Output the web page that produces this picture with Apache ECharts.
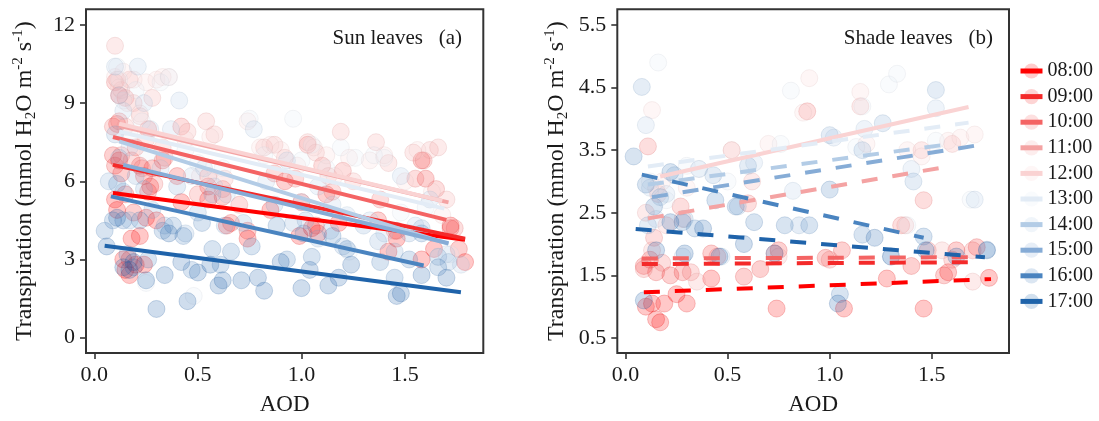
<!DOCTYPE html>
<html><head><meta charset="utf-8">
<script src="https://cdn.jsdelivr.net/npm/echarts@6/dist/echarts.min.js"></script>
<style>html,body{margin:0;padding:0;background:#fff}#c{width:1099px;height:421px}</style>
</head><body><div id="c"></div>
<script>
const hours = ['08:00','09:00','10:00','11:00','12:00','13:00','14:00','15:00','16:00','17:00'];
const hourColors = ['#FF0000','#F42A2A','#F46464','#F4A3A3','#FAD3D3','#E3ECF6','#B3CCE6','#86ACD6','#4A84C0','#1F63AA'];
const xTicks = [0, 0.5, 1.0, 1.5];
const sunYTicks = [0, 3, 6, 9, 12];
const shadeYTicks = [0.5, 1.5, 2.5, 3.5, 4.5, 5.5];
const panelTitles = ['Sun leaves   (a)', 'Shade leaves   (b)'];

// fitted lines: [aodStart, Tstart, aodEnd, Tend]
const sunFits = [
  [0.09, 5.55, 1.79, 3.76],
  [0.09, 6.63, 1.79, 3.80],
  [0.09, 7.70, 1.70, 4.52],
  [0.12, 8.13, 1.71, 5.19],
  [0.12, 8.21, 1.68, 5.25],
  [0.12, 7.91, 1.69, 4.95],
  [0.12, 7.53, 1.71, 3.60],
  [0.14, 6.63, 1.71, 3.62],
  [0.08, 5.42, 1.59, 2.77],
  [0.05, 3.53, 1.77, 1.74]
];
const shadeFits = [
  [0.09, 1.23, 1.79, 1.44],
  [0.08, 1.68, 1.69, 1.71],
  [0.08, 1.77, 1.69, 1.79],
  [0.11, 2.41, 1.60, 3.25],
  [0.17, 3.08, 1.68, 4.19],
  [0.11, 3.24, 1.68, 3.94],
  [0.11, 2.95, 1.55, 3.58],
  [0.13, 2.75, 1.71, 3.57],
  [0.08, 3.11, 1.46, 2.10],
  [0.05, 2.24, 1.76, 1.79]
];
const shadeLineType = ['dashed','dashed','dashed','dashed','solid','dashed','dashed','dashed','dashed','dashed'];

const sunPoints = [
  [[0.10,5.3],[0.11,4.9],[0.12,6.8],[0.14,3.0],[0.15,2.6],[0.17,2.4],[0.18,3.8],[0.20,2.8],[0.22,3.9],[0.24,2.8],[0.25,4.6],[0.27,5.8],[0.30,4.5],[0.42,5.2],[0.55,5.3],[0.64,4.3],[0.74,3.8],[0.85,4.9],[0.99,3.9],[1.05,4.2],[1.08,4.0],[1.18,4.4],[1.42,3.3],[1.46,3.8],[1.58,3.0],[1.64,3.4],[1.72,4.3],[1.79,2.9]],
  [[0.09,7.0],[0.10,6.6],[0.11,8.2],[0.12,9.3],[0.13,6.3],[0.15,5.5],[0.17,3.0],[0.19,4.8],[0.22,6.6],[0.24,6.2],[0.26,5.6],[0.28,6.5],[0.33,6.8],[0.40,6.2],[0.55,5.8],[0.62,5.4],[0.66,4.4],[0.74,4.1],[0.92,6.0],[1.00,5.2],[1.07,4.3],[1.12,5.5],[1.37,4.5],[1.46,4.1],[1.58,6.8],[1.60,6.1],[1.72,4.2],[1.76,3.4]],
  [[0.09,8.1],[0.10,9.8],[0.12,8.3],[0.13,7.0],[0.15,9.2],[0.18,6.8],[0.20,7.3],[0.23,6.5],[0.26,8.0],[0.29,5.9],[0.34,6.9],[0.42,8.1],[0.50,5.5],[0.55,6.2],[0.62,5.7],[0.70,5.1],[0.87,6.3],[0.97,6.1],[1.03,7.4],[1.10,6.6],[1.15,5.6],[1.20,6.4],[1.38,5.3],[1.45,4.1],[1.55,6.1],[1.59,6.8],[1.65,5.7],[1.74,4.2]],
  [[0.10,11.2],[0.11,9.9],[0.13,9.5],[0.15,8.1],[0.17,9.9],[0.19,9.0],[0.22,8.5],[0.25,7.6],[0.28,9.2],[0.33,7.3],[0.45,7.9],[0.54,8.3],[0.58,7.8],[0.63,6.1],[0.82,7.3],[0.87,7.4],[0.92,6.9],[1.03,7.5],[1.07,7.1],[1.13,6.2],[1.19,7.9],[1.25,6.0],[1.36,7.5],[1.42,6.7],[1.54,7.1],[1.62,7.2],[1.66,7.3],[1.70,5.3]],
  [[0.10,10.0],[0.12,9.6],[0.14,10.2],[0.16,9.0],[0.19,9.9],[0.22,8.6],[0.25,9.8],[0.30,9.9],[0.33,10.0],[0.36,10.0],[0.44,7.6],[0.51,6.2],[0.56,7.7],[0.74,8.3],[0.80,7.3],[0.85,7.4],[0.90,7.2],[0.98,6.6],[1.06,7.3],[1.12,7.0],[1.16,6.2],[1.23,6.9],[1.33,6.8],[1.40,7.0],[1.50,6.0],[1.56,7.2],[1.63,5.6],[1.68,4.7]],
  [[0.11,10.4],[0.12,9.9],[0.14,9.1],[0.17,7.8],[0.20,9.5],[0.23,8.3],[0.26,7.1],[0.25,2.1],[0.32,9.8],[0.36,10.0],[0.44,7.2],[0.48,1.6],[0.50,6.7],[0.56,6.0],[0.62,6.5],[0.75,8.4],[0.82,7.0],[0.96,8.4],[1.00,6.8],[1.05,7.4],[1.12,6.5],[1.19,7.3],[1.23,3.3],[1.26,6.9],[1.35,7.0],[1.40,6.9],[1.48,4.8],[1.60,5.0],[1.66,3.1],[1.72,3.2]],
  [[0.10,10.4],[0.12,9.3],[0.14,8.7],[0.17,7.3],[0.21,10.4],[0.24,9.0],[0.27,8.0],[0.32,6.5],[0.37,8.0],[0.41,9.1],[0.47,6.2],[0.53,6.5],[0.58,5.8],[0.64,5.5],[0.77,8.0],[0.83,6.0],[0.93,6.8],[1.00,5.2],[1.08,5.8],[1.15,5.1],[1.22,4.7],[1.33,4.5],[1.40,4.0],[1.48,6.2],[1.55,4.3],[1.62,5.3],[1.70,3.2],[1.77,2.8]],
  [[0.07,6.0],[0.10,7.8],[0.12,6.9],[0.14,5.6],[0.17,4.5],[0.20,6.2],[0.24,5.7],[0.28,4.9],[0.34,4.3],[0.40,5.8],[0.44,4.0],[0.50,4.8],[0.57,5.5],[0.63,4.3],[0.72,4.4],[0.87,5.1],[0.96,4.4],[1.02,4.5],[1.08,3.8],[1.14,4.1],[1.20,3.5],[1.30,4.3],[1.37,3.7],[1.45,3.3],[1.52,4.0],[1.58,4.2],[1.66,3.1],[1.71,2.9]],
  [[0.05,4.1],[0.09,4.5],[0.11,5.9],[0.14,4.5],[0.16,3.2],[0.19,2.7],[0.22,4.5],[0.26,3.0],[0.33,4.1],[0.38,4.3],[0.43,3.9],[0.47,2.6],[0.52,4.4],[0.57,3.4],[0.61,2.8],[0.66,3.3],[0.76,3.5],[0.88,4.3],[0.93,3.0],[1.01,4.0],[1.05,3.1],[1.15,3.9],[1.22,3.4],[1.38,2.9],[1.45,2.3],[1.52,3.0],[1.58,4.0],[1.66,2.7]],
  [[0.06,3.5],[0.11,4.6],[0.14,2.7],[0.17,2.6],[0.19,2.9],[0.25,2.2],[0.30,1.1],[0.34,2.4],[0.36,4.0],[0.42,2.9],[0.45,1.4],[0.50,2.5],[0.56,2.8],[0.60,2.0],[0.62,2.2],[0.71,2.2],[0.79,2.3],[0.82,1.8],[0.90,2.9],[1.00,1.9],[1.04,2.6],[1.13,2.0],[1.18,2.3],[1.24,2.8],[1.46,1.6],[1.48,1.7],[1.58,2.4],[1.70,2.3]]
];

const shadePoints = [
  [[0.10,1.0],[0.13,1.05],[0.15,0.8],[0.17,0.75],[0.19,1.05],[0.25,1.2],[0.30,1.05],[0.42,1.45],[0.74,0.97],[1.07,0.97],[1.28,1.45],[1.46,0.97],[1.58,1.55],[1.78,1.46]],
  [[0.09,1.65],[0.12,1.75],[0.15,1.55],[0.22,1.5],[0.28,1.55],[0.42,1.85],[0.58,1.48],[0.66,1.6],[0.75,1.9],[0.98,1.78],[1.06,1.9],[1.40,1.65],[1.56,1.5],[1.62,1.9],[1.72,1.95]],
  [[0.09,1.6],[0.11,3.56],[0.14,2.1],[0.18,1.7],[0.27,2.6],[0.32,1.55],[0.45,1.8],[0.60,2.65],[0.73,1.85],[0.89,4.12],[1.00,1.75],[1.35,2.3],[1.46,2.7],[1.48,1.9],[1.60,1.75],[1.70,1.9]],
  [[0.10,2.5],[0.13,1.9],[0.16,2.8],[0.20,2.3],[0.28,2.4],[0.35,1.4],[0.52,3.5],[0.62,3.0],[0.75,1.8],[1.15,4.2],[1.37,2.3],[1.45,3.5],[1.55,1.9],[1.60,3.6],[1.70,1.4]],
  [[0.13,4.14],[0.15,2.9],[0.18,3.0],[0.30,2.9],[0.52,3.5],[0.70,3.6],[0.87,4.1],[0.90,4.65],[1.15,4.43],[1.18,3.6],[1.38,3.5],[1.45,3.4],[1.58,3.65],[1.64,3.7],[1.71,3.75]],
  [[0.12,3.0],[0.16,4.9],[0.20,2.7],[0.30,3.25],[0.36,3.2],[0.50,3.0],[0.76,3.6],[0.81,4.45],[1.13,3.55],[1.16,4.2],[1.29,4.55],[1.33,4.72],[1.38,2.3],[1.69,2.71],[1.52,3.65]],
  [[0.10,3.9],[0.12,2.9],[0.15,2.4],[0.20,2.8],[0.28,1.8],[0.36,3.2],[0.47,1.8],[0.63,3.3],[0.82,2.85],[1.02,3.7],[1.17,3.84],[1.30,1.8],[1.40,3.2],[1.52,4.17],[1.71,2.71]],
  [[0.08,4.51],[0.11,2.3],[0.17,2.75],[0.24,3.1],[0.29,2.4],[0.43,3.1],[0.55,2.6],[0.60,3.25],[0.85,2.3],[1.00,3.74],[1.16,3.5],[1.26,3.93],[1.41,3.0],[1.52,4.46],[1.77,1.91]],
  [[0.04,3.40],[0.10,2.95],[0.14,2.6],[0.22,3.15],[0.28,2.35],[0.34,2.25],[0.44,2.7],[0.54,2.6],[0.63,2.35],[0.78,2.3],[0.90,2.3],[1.00,2.87],[1.05,1.2],[1.16,2.15],[1.46,2.12]],
  [[0.09,1.1],[0.15,1.9],[0.22,2.35],[0.29,1.85],[0.38,2.25],[0.46,1.8],[0.58,2.0],[0.73,1.85],[1.04,1.05],[1.22,2.1],[1.30,1.8],[1.47,1.9],[1.62,1.8],[1.77,1.9]]
];

const FONT = '"Liberation Serif", "Times New Roman", serif';
const INK = '#1a1a1a';

function rgba(hex, a, k) {
  k = k || 1;
  const r = Math.round(parseInt(hex.slice(1,3),16)*k);
  const g = Math.round(parseInt(hex.slice(3,5),16)*k);
  const b = Math.round(parseInt(hex.slice(5,7),16)*k);
  return 'rgba(' + r + ',' + g + ',' + b + ',' + a + ')';
}

const yName = '{n|Transpiration (mmol H}{sub|2}{n|O m}{sup|-2}{n| s}{sup|-1}{n|)}';
const yNameStyle = {
  rich: {
    n: {fontFamily: FONT, fontSize: 24, color: INK, lineHeight: 28},
    sub: {fontFamily: FONT, fontSize: 15, color: INK, verticalAlign: 'bottom', lineHeight: 15},
    sup: {fontFamily: FONT, fontSize: 15, color: INK, verticalAlign: 'top', lineHeight: 15}
  }
};

function xAxis(idx) {
  return {
    type: 'value', gridIndex: idx, min: -0.04, max: 1.878,
    name: 'AOD', nameLocation: 'middle', nameGap: 40,
    nameTextStyle: {fontFamily: FONT, fontSize: 23, color: INK},
    axisLine: {show: false, onZero: false},
    axisTick: {show: true, inside: false, length: 6, customValues: xTicks, lineStyle: {color: '#333', width: 1.6}},
    axisLabel: {customValues: xTicks, formatter: v => v.toFixed(1), margin: 11, fontFamily: FONT, fontSize: 22, color: INK},
    splitLine: {show: false}
  };
}
function yAxis(idx, min, max, ticks) {
  return {
    type: 'value', gridIndex: idx, min: min, max: max,
    name: yName, nameLocation: 'middle', nameGap: 47, nameTextStyle: yNameStyle,
    axisLine: {show: false, onZero: false},
    axisTick: {show: true, inside: false, length: 6, customValues: ticks, lineStyle: {color: '#333', width: 1.6}},
    axisLabel: {customValues: ticks, margin: 11, fontFamily: FONT, fontSize: 22, color: INK},
    splitLine: {show: false}
  };
}

const series = [];
hours.forEach((h, i) => {
  const c = hourColors[i];
  const f = sunFits[i];
  series.push({
    type: 'line', name: h, xAxisIndex: 0, yAxisIndex: 0, z: 5,
    data: [[f[0], f[1]], [f[2], f[3]]],
    symbol: 'circle', showSymbol: false, silent: true,
    lineStyle: {color: c, width: 4, type: 'solid', cap: 'butt'},
    itemStyle: {color: rgba(c, 0.2), borderWidth: 0}
  });
});
hours.forEach((h, i) => {
  const c = hourColors[i];
  const f = shadeFits[i];
  series.push({
    type: 'line', name: h, xAxisIndex: 1, yAxisIndex: 1, z: 5,
    data: [[f[0], f[1]], [f[2], f[3]]],
    symbol: 'circle', showSymbol: false, silent: true,
    lineStyle: {color: c, width: 4, type: shadeLineType[i] === 'dashed' ? [16, 15] : 'solid', cap: 'butt'},
    itemStyle: {color: rgba(c, 0.2), borderWidth: 0}
  });
});
hours.forEach((h, i) => {
  const c = hourColors[i];
  const sty = {color: rgba(c, 0.27), borderColor: rgba(c, 0.28, 0.88), borderWidth: 1};
  series.push({type: 'scatter', name: h, xAxisIndex: 0, yAxisIndex: 0, z: 2, symbolSize: 17, data: sunPoints[i], itemStyle: sty, silent: true});
  series.push({type: 'scatter', name: h, xAxisIndex: 1, yAxisIndex: 1, z: 2, symbolSize: 17, data: shadePoints[i], itemStyle: sty, silent: true});
});

const option = {
  animation: false,
  backgroundColor: '#fff',
  title: [
    {text: panelTitles[0], right: 637, top: 28, padding: 0, textStyle: {fontFamily: FONT, fontSize: 21, fontWeight: 'normal', color: INK}},
    {text: panelTitles[1], right: 106, top: 28, padding: 0, textStyle: {fontFamily: FONT, fontSize: 21, fontWeight: 'normal', color: INK}}
  ],
  grid: [
    {left: 86, top: 9.3, width: 397.3, height: 344, show: true, borderColor: '#333', borderWidth: 2, backgroundColor: 'transparent', containLabel: false},
    {left: 617.3, top: 9.3, width: 391.7, height: 344, show: true, borderColor: '#333', borderWidth: 2, backgroundColor: 'transparent', containLabel: false}
  ],
  xAxis: [xAxis(0), xAxis(1)],
  yAxis: [yAxis(0, -0.59, 12.6, sunYTicks), yAxis(1, 0.26, 5.75, shadeYTicks)],
  legend: {
    data: hours, orient: 'vertical', left: 1018, top: 61, padding: 0,
    itemWidth: 22, itemHeight: 19, itemGap: 5.6, selectedMode: false,
    lineStyle: {width: 5},
    itemStyle: {borderWidth: 0},
    textStyle: {fontFamily: FONT, fontSize: 20, color: INK}
  },
  series: series
};

const chart = echarts.init(document.getElementById('c'), null, {renderer: 'canvas'});
chart.setOption(option);
</script>
</body></html>
